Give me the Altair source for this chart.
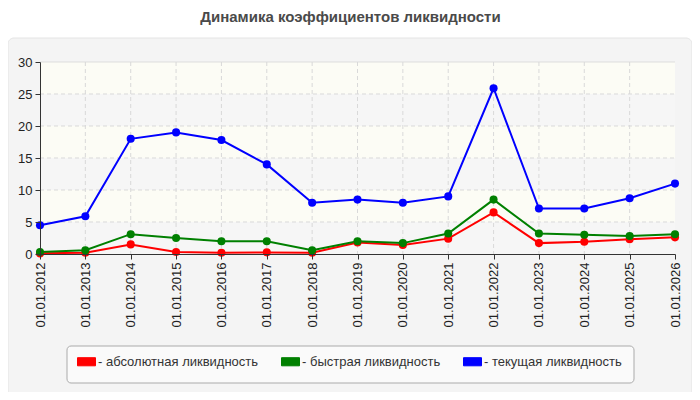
import pandas as pd
import altair as alt


# ── Data ───────────────────────────────────────────────────────────────────────

YEARS = [2012, 2013, 2014, 2015, 2016, 2017, 2018, 2019,
         2020, 2021, 2022, 2023, 2024, 2025, 2026]
DATES = ['01.01.' + str(y) for y in YEARS]

SERIES = ['абсолютная ликвидность', 'быстрая ликвидность', 'текущая ликвидность']
COLORS = ['#ff0000', '#008000', '#0000ff']

ABSOLUTE = [0.1, 0.2, 1.5, 0.3, 0.2, 0.25, 0.2, 1.8, 1.4, 2.4, 6.5, 1.7, 1.9, 2.3, 2.6]
QUICK    = [0.3, 0.6, 3.1, 2.5, 2.0, 2.0, 0.6, 2.0, 1.7, 3.2, 8.5, 3.2, 3.0, 2.8, 3.1]
CURRENT  = [4.5, 5.9, 18.0, 19.0, 17.8, 14.0, 8.0, 8.5, 8.0, 9.0, 25.9, 7.1, 7.1, 8.7, 11.0]

Y_TICKS = [0, 5, 10, 15, 20, 25, 30]
BAND_FILLS = ['#f6f6f6', '#fcfcf5']

W, H = 635, 192

# ── Frames ─────────────────────────────────────────────────────────────────────

frames = []
for name, vals in zip(SERIES, [ABSOLUTE, QUICK, CURRENT]):
    frames.append(pd.DataFrame({'date': DATES, 'series': name, 'value': vals}))
data = pd.concat(frames, ignore_index=True)

bands = pd.DataFrame({
    'lo': Y_TICKS[:-1],
    'hi': Y_TICKS[1:],
    'fill': [BAND_FILLS[i % 2] for i in range(len(Y_TICKS) - 1)],
})
hgrid = pd.DataFrame({'value': Y_TICKS[1:-1]})
vgrid = pd.DataFrame({'date': DATES[1:-1]})
one = pd.DataFrame({'k': [0]})

# ── Scales / axes ──────────────────────────────────────────────────────────────

x_scale = alt.Scale(type='point', domain=DATES, padding=0)
y_scale = alt.Scale(domain=[0, 30], nice=False)

axis_style = dict(
    labelFontSize=13, labelColor='#222222', tickSize=5, tickColor='#333333',
    domainColor='#333333', labelPadding=3, grid=False, zindex=1,
    labelOverlap=False,
)
x_axis = alt.Axis(labelAngle=-90, **axis_style)
y_axis = alt.Axis(values=Y_TICKS, **axis_style)

X = alt.X('date:N', scale=x_scale, title=None, axis=x_axis)

color = alt.Color(
    'series:N',
    scale=alt.Scale(domain=SERIES, range=COLORS),
    legend=alt.Legend(
        title=None, orient='none', legendX=37, legendY=290,
        direction='horizontal', zindex=1,
        symbolType='M-1,-0.45L1,-0.45L1,0.45L-1,0.45Z',
        symbolSize=324, symbolStrokeWidth=1, symbolOpacity=1,
        labelExpr="'- ' + datum.label",
        labelFontSize=13, labelColor='#333333', labelOffset=2,
        columnPadding=20, labelLimit=300,
    ),
)

# ── Layers ─────────────────────────────────────────────────────────────────────

panel = alt.Chart(one).mark_rect(
    fill='#f4f4f4', stroke='#e4e4e4', cornerRadius=6
).encode(
    x=alt.value(-32), x2=alt.value(W + 17), y=alt.value(-24), y2=alt.value(H + 150)
)

band = alt.Chart(bands).mark_rect().encode(
    x=alt.value(0), x2=alt.value(W),
    y=alt.Y('lo:Q', scale=y_scale, title=None, axis=y_axis), y2='hi:Q',
    fill=alt.Fill('fill:N', scale=None),
)

top_edge = alt.Chart(one).mark_rule(color='#dddddd').encode(
    x=alt.value(0), x2=alt.value(W), y=alt.value(0)
)

h_rules = alt.Chart(hgrid).mark_rule(color='#d9d9d9', strokeDash=[4, 3]).encode(
    x=alt.value(0), x2=alt.value(W),
    y=alt.Y('value:Q', scale=y_scale, title=None, axis=y_axis),
)

v_rules = alt.Chart(vgrid).mark_rule(color='#d9d9d9', strokeDash=[4, 3]).encode(x=X)

legend_box = alt.Chart(one).mark_rect(
    fill='#fafafa', stroke='#aaaaaa', cornerRadius=4
).encode(
    x=alt.value(27), x2=alt.value(594), y=alt.value(284), y2=alt.value(321)
)

base = alt.Chart(data).encode(
    x=X,
    y=alt.Y('value:Q', scale=y_scale, title=None, axis=y_axis),
    color=color,
)

lines = base.mark_line(strokeWidth=2)
dots = base.mark_point(filled=True, size=65, opacity=1)

chart = (
    alt.layer(panel, band, top_edge, h_rules, v_rules, legend_box, lines, dots)
    .properties(
        width=W, height=H,
        autosize=alt.AutoSizeParams(type='none'),
        padding={'left': 32, 'top': 54, 'right': 17, 'bottom': 138},
        title=alt.TitleParams(
            text='Динамика коэффициентов ликвидности',
            fontSize=15, fontWeight='bold', color='#4a4a4a',
            font='Liberation Sans', anchor='middle', frame='group',
            offset=13, dx=-7, zindex=1,
        ),
    )
    .configure(font='Liberation Sans', background='white')
    .configure_view(stroke=None)
)

chart.save('out.html', embed_options={'renderer': 'svg', 'actions': False})
